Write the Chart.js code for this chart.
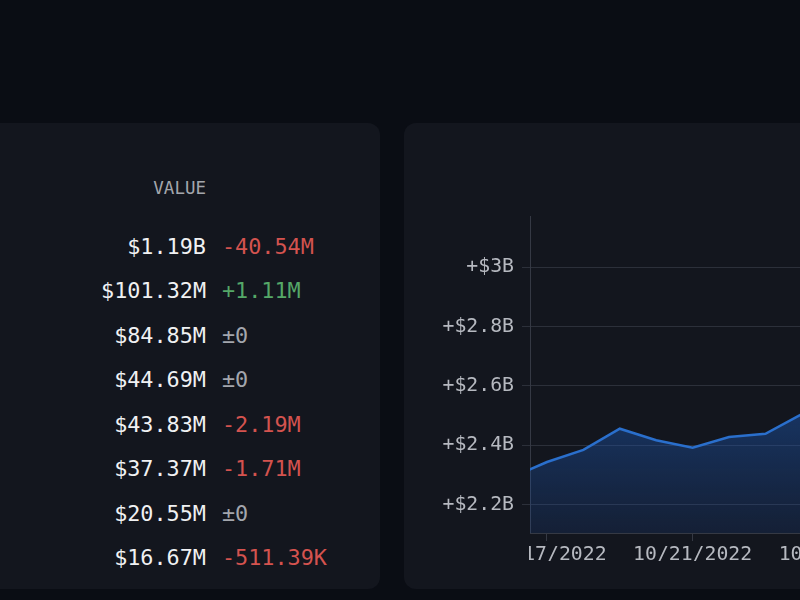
<!DOCTYPE html>
<html>
<head>
<meta charset="utf-8">
<script src="https://cdn.jsdelivr.net/npm/chart.js@4.4.0/dist/chart.umd.min.js"></script>
<style>
  html, body { margin:0; padding:0; width:800px; height:600px; overflow:hidden; background:#0a0d14; }
  .panel { position:absolute; background:#13161e; border-radius:12px; }
  #left { left:-30px; top:123px; width:410px; height:466px; }
  #right { left:404px; top:123px; width:440px; height:466px; }
  .mono { font-family:"DejaVu Sans Mono", "Liberation Mono", monospace; }
  #hdr { position:absolute; left:100px; width:106px; top:176px; height:24px; line-height:24px; text-align:right; font-size:17.5px; color:#a3a6ad; }
  .row { position:absolute; left:0; width:400px; height:44px; line-height:44px; font-size:21.8px; white-space:nowrap; }
  .val { position:absolute; left:6px; width:200px; text-align:right; color:#f0f1f3; }
  .chg { position:absolute; left:222px; }
  #wrap { position:absolute; left:420px; top:201px; width:420px; height:379px; }
</style>
</head>
<body>
<div class="panel" id="left"></div>
<div class="panel" id="right"></div>
<div id="hdr" class="mono">VALUE</div>
<div id="rows" class="mono"></div>
<div id="wrap"><canvas id="c"></canvas></div>
<script>
// ---- table data ----
const tableValues  = ['$1.19B', '$101.32M', '$84.85M', '$44.69M', '$43.83M', '$37.37M', '$20.55M', '$16.67M'];
const tableChanges = ['-40.54M', '+1.11M', '±0', '±0', '-2.19M', '-1.71M', '±0', '-511.39K'];

// ---- chart data ----
const dates  = ['2022-10-16','2022-10-17','2022-10-18','2022-10-19','2022-10-20','2022-10-21','2022-10-22','2022-10-23','2022-10-24'];
const values = [2.29, 2.344, 2.385, 2.456, 2.417, 2.392, 2.428, 2.439, 2.505]; // billions
const xTickDates = ['2022-10-17','2022-10-21','2022-10-25'];
const yTickValues = [2.2, 2.4, 2.6, 2.8, 3.0];
const yMin = 2.105, yMax = 3.172;
const xMinDate = '2022-10-16T12:48:00Z', xMaxDate = '2022-10-25T01:10:00Z';

// table rendering
const rowsEl = document.getElementById('rows');
tableValues.forEach((v, i) => {
  const r = document.createElement('div');
  r.className = 'row';
  r.style.top = (225 + i * 44.43) + 'px';
  const a = document.createElement('span');
  a.className = 'val'; a.textContent = v;
  const c = tableChanges[i];
  const b = document.createElement('span');
  b.className = 'chg'; b.textContent = c;
  b.style.color = c.startsWith('-') ? '#d4534f' : (c.startsWith('+') ? '#55a868' : '#a3a6ad');
  r.appendChild(a); r.appendChild(b);
  rowsEl.appendChild(r);
});

// helpers
const DAY = 86400000;
const base = Date.UTC(2022, 9, 17);
const toDay = s => ((s.length > 10 ? Date.parse(s) : Date.parse(s + 'T00:00:00Z')) - base) / DAY;
const fmtDay = d => { const t = new Date(base + d * DAY); return (t.getUTCMonth()+1) + '/' + t.getUTCDate() + '/' + t.getUTCFullYear(); };

const points = dates.map((d, i) => ({ x: toDay(d), y: values[i] }));
const font = { family: '"DejaVu Sans Mono", "Liberation Mono", monospace', size: 19.8 };

// hides the part of the x labels that sits left of the plot (scrolled-under look)
const maskLeft = {
  id: 'maskLeft',
  afterDraw(chart) {
    const { ctx, chartArea } = chart;
    ctx.save();
    ctx.fillStyle = '#13161e';
    ctx.fillRect(0, chartArea.bottom + 10, chartArea.left - 1, chart.height - chartArea.bottom);
    ctx.restore();
  }
};

new Chart(document.getElementById('c'), {
  type: 'line',
  data: {
    datasets: [{
      data: points,
      borderColor: '#2a6fcc',
      borderWidth: 2.5,
      pointRadius: 0,
      tension: 0,
      fill: 'start',
      backgroundColor: (ctx) => {
        const area = ctx.chart.chartArea;
        if (!area) return 'rgba(30,90,180,0.3)';
        const g = ctx.chart.ctx.createLinearGradient(0, area.top + 190, 0, area.bottom);
        g.addColorStop(0, 'rgba(30,92,185,0.45)');
        g.addColorStop(1, 'rgba(30,80,165,0.18)');
        return g;
      }
    }]
  },
  plugins: [maskLeft],
  options: {
    responsive: true,
    maintainAspectRatio: false,
    animation: false,
    layout: { padding: { top: 15, bottom: 19, left: 0, right: 0 } },
    plugins: { legend: { display: false }, tooltip: { enabled: false } },
    scales: {
      x: {
        type: 'linear',
        min: toDay(xMinDate),
        max: toDay(xMaxDate),
        afterBuildTicks: (s) => { s.ticks = xTickDates.map(d => ({ value: toDay(d) })); },
        afterFit: (s) => { s.height = 28; s.paddingLeft = 0; s.paddingRight = 0; },
        ticks: { autoSkip: false, maxRotation: 0, color: '#b6b9c0', font, padding: 2, callback: (v) => fmtDay(v) },
        grid: { drawOnChartArea: false, drawTicks: true, tickLength: 8, color: '#353944' },
        border: { color: '#353944', width: 1 }
      },
      y: {
        min: yMin,
        max: yMax,
        afterBuildTicks: (s) => { s.ticks = yTickValues.map(v => ({ value: v })); },
        afterFit: (s) => { s.width = 110; s.paddingTop = 0; s.paddingBottom = 0; },
        ticks: { color: '#b6b9c0', font, padding: 8, callback: (v) => '+$' + Number(v.toFixed(1)) + 'B' },
        grid: { color: '#2c303a', tickLength: 8 },
        border: { color: '#353944', width: 1 }
      }
    }
  }
});
</script>
</body>
</html>
